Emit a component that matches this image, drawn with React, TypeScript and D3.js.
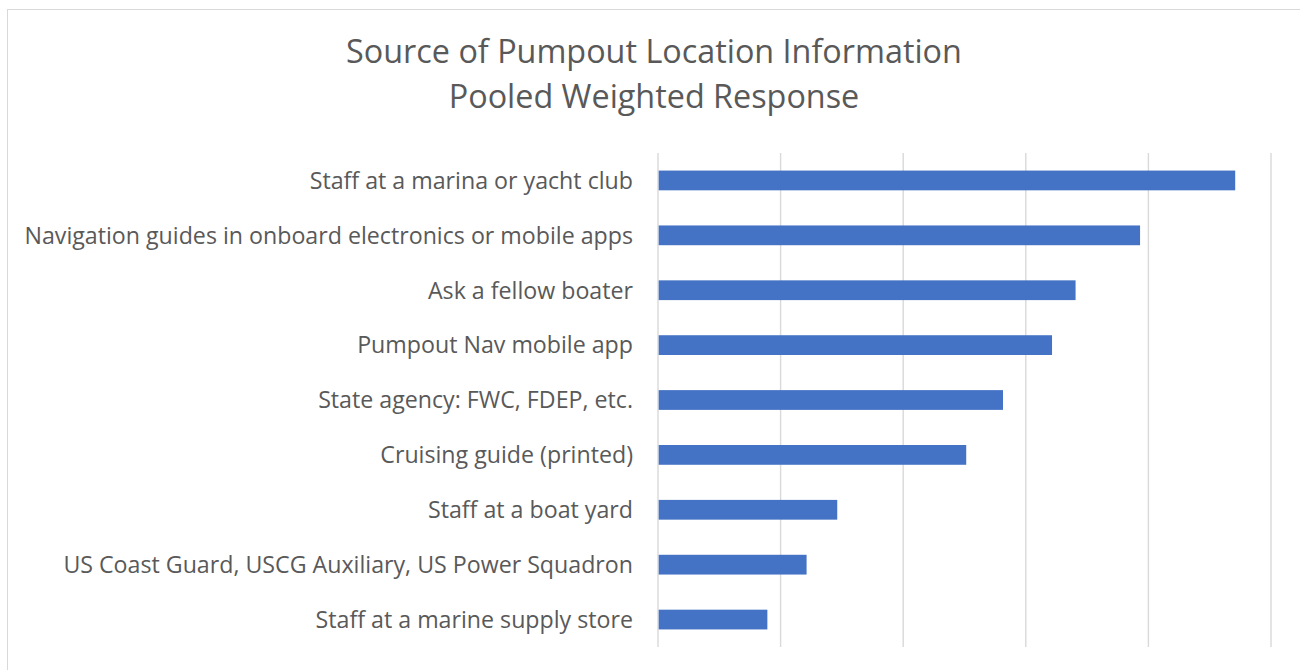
import React, { useEffect, useRef } from "react";
import * as d3 from "d3";

const categories = [
  "Staff at a marina or yacht club",
  "Navigation guides in onboard electronics or mobile apps",
  "Ask a fellow boater",
  "Pumpout Nav mobile app",
  "State agency: FWC, FDEP, etc.",
  "Cruising guide (printed)",
  "Staff at a boat yard",
  "US Coast Guard, USCG Auxiliary, US Power Squadron",
  "Staff at a marine supply store",
];
const values = [23.54, 19.66, 17.03, 16.07, 14.07, 12.57, 7.31, 6.06, 4.46];
const ticks = [0, 5, 10, 15, 20, 25];
const titleLines = ["Source of Pumpout Location Information", "Pooled Weighted Response"];

const W = 1300;
const H = 670;
const FONT = "'Open Sans', 'Noto Sans', sans-serif";
const TEXT = "#595959";

export default function App() {
  const ref = useRef<SVGSVGElement | null>(null);
  useEffect(() => {
    const svg = d3.select(ref.current);
    svg.selectAll("*").remove();

    svg.append("rect").attr("x", 0).attr("y", 0).attr("width", W).attr("height", H).attr("fill", "#fff");
    svg.append("rect")
      .attr("x", 7.5).attr("y", 9.5).attr("width", W + 20).attr("height", H + 20)
      .attr("fill", "none").attr("stroke", "#d9d9d9").attr("stroke-width", 1);

    const x = d3.scaleLinear().domain([0, 25]).range([658, 1271]);
    const y = d3.scaleBand<string>().domain(categories).range([153, 647]).paddingInner(0.64).paddingOuter(0.32);

    svg.append("g").selectAll("line").data(ticks).join("line")
      .attr("x1", (d) => x(d)).attr("x2", (d) => x(d))
      .attr("y1", 153).attr("y2", 647)
      .attr("stroke", "#d9d9d9").attr("stroke-width", 1.4);

    svg.append("g").selectAll("rect").data(categories).join("rect")
      .attr("x", x(0) + 0.7)
      .attr("y", (d) => y(d)!)
      .attr("width", (d, i) => x(values[i]) - x(0) - 0.7)
      .attr("height", y.bandwidth())
      .attr("fill", "#4472C4");

    // Labels
    const lab = svg.append("g").selectAll("text").data(categories).join("text")
      .attr("x", 633)
      .attr("text-anchor", "end")
      .attr("font-family", FONT)
      .attr("fill", TEXT)
      .attr("font-size", 20)
      .text((d) => d);
    const longest = (lab.nodes()[1] as SVGTextElement).getComputedTextLength();
    const fs = 20 * 609 / longest;
    lab.attr("font-size", fs)
      .attr("y", (d) => y(d)! + y.bandwidth() / 2 + fs * 0.714 / 2);

    // Title
    const t = svg.append("g").selectAll("text").data(titleLines).join("text")
      .attr("x", 654)
      .attr("text-anchor", "middle")
      .attr("font-family", FONT)
      .attr("fill", TEXT)
      .attr("font-size", 30)
      .text((d) => d);
    const tl = (t.nodes()[0] as SVGTextElement).getComputedTextLength();
    const tfs = 30 * 616 / tl;
    t.attr("font-size", tfs).attr("y", (d, i) => (i === 0 ? 63.3 : 108.3));
  }, []);
  return <svg ref={ref} width={W} height={H} style={{ display: "block", position: "absolute", left: 0, top: 0 }} />;
}
